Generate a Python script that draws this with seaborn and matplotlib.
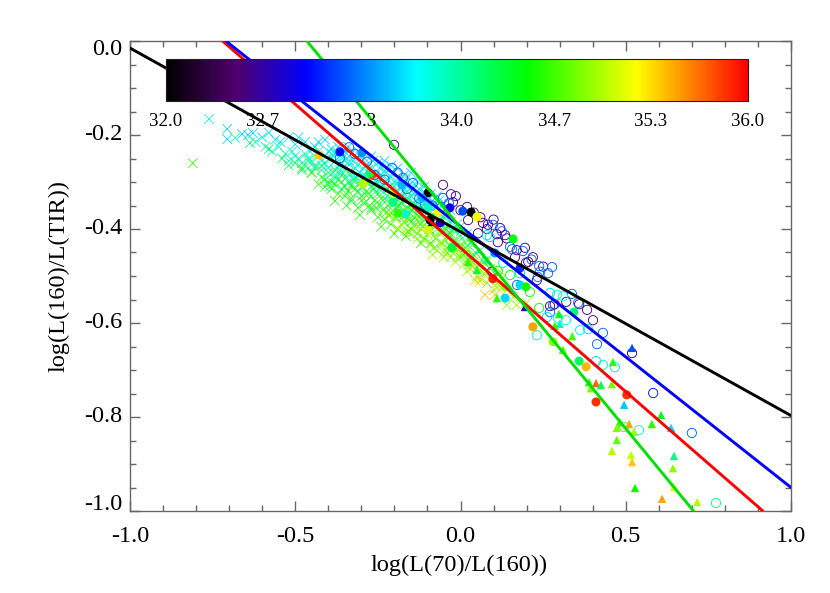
import numpy as np
import pandas as pd
import seaborn as sns
import matplotlib.pyplot as plt
from matplotlib.colors import LinearSegmentedColormap, Normalize
from matplotlib.cm import ScalarMappable
from matplotlib.ticker import MultipleLocator
from matplotlib.transforms import offset_copy

sns.set_theme(style="ticks")
plt.rcParams['font.family'] = ['Liberation Serif', 'DejaVu Serif']

# Fit lines (x ends, y ends)
red_x = [-0.72, 0.915]
red_y = [0.0, -1.0]
blue_x = [-0.71, 1.0]
blue_y = [0.0, -0.95]
green_x = [-0.465, 0.705]
green_y = [0.0, -1.0]
black_x = [-1.0, 1.0]
black_y = [-0.015, -0.797]

# Crosses, one list per colour
azure_x = [-0.706, -0.706, -0.661, -0.643, -0.628, -0.60, -0.58, -0.56, -0.52, -0.50, -0.47, -0.44, -0.41, -0.39, -0.37, -0.35, -0.33, -0.31, -0.29, -0.27, -0.25, -0.23, -0.21, -0.19, -0.17, -0.15, -0.13, -0.11, -0.09, -0.07, -0.05, -0.03, -0.36, -0.32, -0.28, -0.24, -0.20, -0.16, -0.12,
           -0.545, -0.49, -0.455, -0.43, -0.40, -0.38, -0.355, -0.34, -0.325, -0.30, -0.285, -0.265, -0.245, -0.225, -0.205, -0.185, -0.165, -0.145, -0.125, -0.105, -0.085, -0.065, -0.045, -0.345, -0.305, -0.26, -0.22, -0.18, -0.14, -0.10, -0.38, -0.34, -0.29, -0.255, -0.215, -0.175, -0.135]
azure_y = [-0.187, -0.209, -0.198, -0.2, -0.196, -0.205, -0.195, -0.21, -0.205, -0.22, -0.215, -0.225, -0.21, -0.23, -0.225, -0.235, -0.24, -0.235, -0.25, -0.245, -0.26, -0.255, -0.265, -0.27, -0.285, -0.28, -0.30, -0.31, -0.325, -0.33, -0.345, -0.36, -0.26, -0.27, -0.275, -0.285, -0.30, -0.31, -0.335,
           -0.215, -0.205, -0.235, -0.215, -0.235, -0.24, -0.245, -0.225, -0.255, -0.25, -0.265, -0.255, -0.27, -0.28, -0.28, -0.295, -0.295, -0.30, -0.315, -0.325, -0.34, -0.34, -0.355, -0.27, -0.28, -0.29, -0.295, -0.31, -0.325, -0.34, -0.255, -0.26, -0.29, -0.30, -0.31, -0.32, -0.34]
cyan_x = [-0.761, -0.682, -0.62, -0.59, -0.57, -0.55, -0.53, -0.51, -0.49, -0.47, -0.45, -0.43, -0.41, -0.39, -0.37, -0.35, -0.33, -0.31, -0.29, -0.27, -0.25, -0.23, -0.21, -0.19, -0.17, -0.15, -0.13, -0.11, -0.09, -0.07, -0.05, -0.03, -0.01, 0.02, -0.46, -0.42, -0.38, -0.34, -0.30, -0.26, -0.22, -0.18, -0.395,
          -0.52, -0.50, -0.48, -0.46, -0.44, -0.42, -0.40, -0.385, -0.365, -0.345, -0.325, -0.305, -0.285, -0.265, -0.245, -0.225, -0.205, -0.185, -0.165, -0.145, -0.125, -0.105, -0.085, -0.065, -0.045, -0.025, 0.0, 0.035, -0.36, -0.32, -0.28, -0.24, -0.20, -0.16, -0.12, -0.08, -0.04, -0.43, -0.39, -0.35, -0.31, -0.27, -0.23, -0.19, -0.15, -0.11, -0.07, -0.375, -0.335, -0.295]
cyan_y = [-0.166, -0.206, -0.215, -0.225, -0.235, -0.225, -0.24, -0.235, -0.25, -0.24, -0.255, -0.245, -0.26, -0.25, -0.265, -0.255, -0.28, -0.265, -0.285, -0.29, -0.28, -0.30, -0.29, -0.32, -0.30, -0.33, -0.32, -0.345, -0.35, -0.36, -0.375, -0.385, -0.39, -0.41, -0.27, -0.275, -0.29, -0.30, -0.31, -0.315, -0.33, -0.345, -0.31,
          -0.255, -0.245, -0.26, -0.25, -0.265, -0.255, -0.27, -0.28, -0.275, -0.29, -0.295, -0.30, -0.30, -0.305, -0.315, -0.315, -0.325, -0.335, -0.335, -0.345, -0.355, -0.36, -0.37, -0.38, -0.39, -0.40, -0.405, -0.425, -0.28, -0.29, -0.30, -0.295, -0.31, -0.32, -0.35, -0.345, -0.365, -0.235, -0.24, -0.245, -0.25, -0.27, -0.275, -0.30, -0.31, -0.33, -0.35, -0.235, -0.255, -0.27]
spring_x = [-0.637, -0.58, -0.54, -0.50, -0.46, -0.44, -0.42, -0.40, -0.38, -0.36, -0.34, -0.32, -0.30, -0.28, -0.26, -0.24, -0.22, -0.20, -0.18, -0.16, -0.14, -0.12, -0.10, -0.08, -0.06, -0.04, -0.02, 0.0, 0.03, 0.06,
            -0.52, -0.48, -0.45, -0.41, -0.39, -0.37, -0.35, -0.33, -0.31, -0.29, -0.27, -0.25, -0.23, -0.21, -0.19, -0.17, -0.15, -0.13, -0.11, -0.09, -0.07, -0.05, -0.03, -0.01, 0.015, 0.045, 0.08, -0.36, -0.30, -0.24, -0.18, -0.12, -0.06, 0.0, -0.33, -0.27, -0.21, -0.15, -0.09, -0.03]
spring_y = [-0.217, -0.23, -0.25, -0.26, -0.255, -0.27, -0.265, -0.28, -0.275, -0.285, -0.28, -0.295, -0.30, -0.30, -0.305, -0.31, -0.315, -0.325, -0.33, -0.335, -0.345, -0.355, -0.365, -0.37, -0.385, -0.395, -0.40, -0.415, -0.43, -0.445,
            -0.265, -0.275, -0.28, -0.295, -0.30, -0.295, -0.31, -0.31, -0.32, -0.325, -0.33, -0.325, -0.335, -0.345, -0.35, -0.36, -0.36, -0.37, -0.38, -0.385, -0.40, -0.405, -0.415, -0.43, -0.44, -0.45, -0.465, -0.315, -0.34, -0.35, -0.345, -0.39, -0.37, -0.395, -0.34, -0.355, -0.365, -0.385, -0.405, -0.435]
lgreen_x = [-0.81, -0.48, -0.45, -0.42, -0.40, -0.38, -0.36, -0.34, -0.32, -0.30, -0.28, -0.26, -0.24, -0.22, -0.20, -0.18, -0.16, -0.14, -0.12, -0.10, -0.08, -0.06, -0.04, -0.02, 0.0, 0.02, 0.04, 0.07, -0.31, -0.27, -0.25, -0.23, -0.21, -0.19, -0.17, -0.15, -0.13, -0.11, -0.09,
            -0.43, -0.41, -0.39, -0.37, -0.35, -0.33, -0.29, -0.275, -0.255, -0.235, -0.215, -0.195, -0.175, -0.155, -0.135, -0.115, -0.095, -0.075, -0.055, -0.035, -0.015, 0.01, 0.03, 0.055, 0.09, -0.38, -0.345, -0.305, -0.24, -0.20, -0.16, -0.12, -0.08, -0.04, 0.0, 0.03, -0.225, -0.185, -0.145, -0.105, -0.07, -0.03, 0.015, -0.265, -0.295, -0.33, -0.165, -0.125, -0.085, -0.045]
lgreen_y = [-0.26, -0.27, -0.28, -0.29, -0.30, -0.305, -0.30, -0.32, -0.315, -0.33, -0.325, -0.34, -0.335, -0.35, -0.345, -0.365, -0.355, -0.375, -0.37, -0.385, -0.395, -0.405, -0.415, -0.425, -0.435, -0.445, -0.455, -0.47, -0.355, -0.36, -0.375, -0.38, -0.39, -0.40, -0.385, -0.40, -0.41, -0.42, -0.43,
            -0.305, -0.31, -0.315, -0.325, -0.33, -0.335, -0.345, -0.35, -0.355, -0.36, -0.37, -0.375, -0.375, -0.38, -0.39, -0.395, -0.40, -0.42, -0.43, -0.435, -0.44, -0.455, -0.465, -0.475, -0.485, -0.34, -0.35, -0.37, -0.395, -0.41, -0.405, -0.43, -0.44, -0.45, -0.46, -0.475, -0.365, -0.35, -0.36, -0.375, -0.385, -0.41, -0.43, -0.315, -0.31, -0.305, -0.415, -0.375, -0.385, -0.40]
lime_x = [-0.22, -0.20, -0.18, -0.16, -0.14, -0.12, -0.10, -0.08, -0.06, -0.04, -0.02, 0.0, 0.02, 0.04, 0.06, 0.08, 0.10, 0.12, -0.085, -0.05, -0.015, 0.02, 0.05, 0.14, 0.14, 0.17, 0.2, 0.11, 0.08,
          -0.19, -0.17, -0.15, -0.13, -0.11, -0.09, -0.07, -0.05, -0.03, -0.01, 0.01, 0.03, 0.05, 0.07, 0.09, 0.11, 0.13, -0.12, -0.08, -0.04, 0.0, 0.04, 0.08, 0.12, -0.06, -0.02, 0.02, 0.06, 0.1, 0.16]
lime_y = [-0.37, -0.375, -0.39, -0.38, -0.395, -0.40, -0.41, -0.415, -0.43, -0.44, -0.45, -0.455, -0.465, -0.475, -0.485, -0.49, -0.50, -0.51, -0.455, -0.46, -0.47, -0.49, -0.50, -0.53, -0.562, -0.562, -0.557, -0.525, -0.515,
          -0.40, -0.405, -0.41, -0.42, -0.425, -0.435, -0.445, -0.45, -0.46, -0.46, -0.475, -0.485, -0.48, -0.495, -0.505, -0.515, -0.52, -0.385, -0.395, -0.42, -0.44, -0.46, -0.47, -0.49, -0.41, -0.435, -0.445, -0.505, -0.53, -0.545]
amber_x = [0.044, 0.059, 0.074, 0.104]
amber_y = [-0.509, -0.511, -0.54, -0.54]

# Open circles
open_x = [-0.201, -0.053, -0.029, -0.014, -0.023, 0.02, 0.023, 0.068, 0.083, 0.12, 0.08, 0.053, 0.135, 0.11, 0.113, 0.195, 0.165, 0.198, 0.219, 0.231, 0.271, 0.383, 0.359, 0.401, 0.095, 0.519, 0.583, 0.70,
          0.0, 0.04, 0.06, 0.10, 0.14, 0.17, 0.25, 0.285, 0.32, 0.205,
          -0.053, 0.098, 0.15, 0.156, 0.189, 0.238, 0.277, 0.241, 0.265, 0.234, 0.171, 0.337, 0.356, 0.28, 0.271, 0.431, 0.413, -0.365, -0.337, -0.283, -0.207, -0.174, -0.144, -0.162, -0.107,
          -0.32, -0.26, -0.23, -0.19, -0.125, -0.085, -0.06, -0.035, 0.125, 0.215,
          0.08, 0.089, 0.053, 0.129, 0.18, 0.271, 0.292, 0.31, 0.319, 0.295, 0.231, 0.362, 0.386, 0.262, 0.41, 0.431, 0.467, 0.54, 0.495, 0.773, 0.238, 0.15, 0.21, 0.113]
open_y = [-0.221, -0.306, -0.326, -0.33, -0.343, -0.353, -0.381, -0.387, -0.391, -0.398, -0.40, -0.409, -0.413, -0.411, -0.428, -0.44, -0.46, -0.472, -0.46, -0.509, -0.564, -0.572, -0.56, -0.594, -0.491, -0.664, -0.749, -0.834,
          -0.36, -0.365, -0.375, -0.38, -0.42, -0.445, -0.48, -0.56, -0.555, -0.47,
          -0.334, -0.391, -0.438, -0.443, -0.447, -0.479, -0.481, -0.491, -0.494, -0.502, -0.519, -0.538, -0.557, -0.562, -0.577, -0.621, -0.645, -0.249, -0.226, -0.257, -0.27, -0.291, -0.302, -0.315, -0.349,
          -0.24, -0.285, -0.295, -0.28, -0.335, -0.35, -0.355, -0.345, -0.405, -0.465,
          -0.413, -0.417, -0.46, -0.472, -0.494, -0.536, -0.54, -0.543, -0.594, -0.589, -0.626, -0.615, -0.613, -0.587, -0.681, -0.689, -0.694, -0.828, -0.821, -0.983, -0.568, -0.498, -0.534, -0.489]
open_lum = [32.55] * 26 + [33.0, 33.25] + [32.55] * 10 + [33.25] * 35 + [33.6, 33.6, 33.9, 33.8, 33.6, 33.6, 33.9, 33.9, 33.7, 33.8, 33.9, 33.7, 33.6, 33.6, 33.6, 33.9, 33.6, 33.9, 34.7, 34.1, 34.4, 34.4, 34.5, 34.4]

# Filled circles
dot_x = [-0.428, -0.365, -0.298, -0.268, -0.274, -0.295, -0.177, -0.098, -0.204, -0.189, -0.165, -0.098, -0.068, -0.032, -0.026, -0.062, -0.092, -0.098, -0.204, -0.117, 0.007, 0.032, 0.05, 0.159, 0.104, 0.18, 0.098, 0.135, 0.18, 0.198, 0.135, 0.219, 0.28, 0.343, 0.359, 0.38, 0.41, 0.503]
dot_y = [-0.243, -0.236, -0.238, -0.285, -0.281, -0.304, -0.306, -0.323, -0.343, -0.366, -0.368, -0.402, -0.364, -0.355, -0.44, -0.387, -0.381, -0.353, -0.323, -0.334, -0.362, -0.364, -0.374, -0.421, -0.451, -0.483, -0.506, -0.523, -0.519, -0.523, -0.547, -0.608, -0.64, -0.577, -0.681, -0.693, -0.768, -0.753]
dot_lum = [35.4, 33.0, 33.4, 35.8, 34.2, 35.0, 33.5, 32.0, 34.1, 34.6, 33.9, 35.1, 35.2, 32.9, 34.3, 32.8, 32.0, 33.9, 35.1, 33.5, 33.2, 32.0, 35.2, 34.4, 33.4, 33.1, 35.9, 34.95, 33.6, 34.5, 33.6, 35.5, 34.9, 34.2, 34.2, 35.45, 35.85, 35.85]

# Triangles
tri_x = [0.519, 0.461, 0.338, 0.31, 0.298, 0.30, 0.285, 0.41, 0.389, 0.394, 0.425, 0.458, 0.495, 0.482, 0.51, 0.473, 0.525, 0.579, 0.607, 0.637, 0.473, 0.458, 0.516, 0.519, 0.646, 0.643, 0.528, 0.61, 0.716, 0.646, 0.195, 0.11, 0.05, 0.023, 0.08, -0.086]
tri_y = [-0.653, -0.683, -0.628, -0.657, -0.581, -0.602, -0.606, -0.728, -0.726, -0.739, -0.732, -0.73, -0.774, -0.811, -0.815, -0.823, -0.832, -0.815, -0.796, -0.823, -0.849, -0.872, -0.881, -0.896, -0.883, -0.909, -0.951, -0.974, -0.981, -0.949, -0.566, -0.547, -0.487, -0.47, -0.466, -0.385]
tri_lum = [33.2, 34.6, 34.7, 34.7, 34.5, 33.9, 34.6, 35.7, 34.6, 34.85, 34.2, 34.8, 33.55, 34.6, 35.5, 34.85, 34.95, 34.6, 34.4, 33.6, 34.75, 35.0, 35.05, 35.4, 34.1, 34.9, 34.5, 35.5, 35.0, 35.1, 32.8, 34.6, 34.3, 34.6, 33.9, 32.0]

# Axis and colour bar labels
x_ticks = [-1.0, -0.5, 0.0, 0.5, 1.0]
y_ticks = [0.0, -0.2, -0.4, -0.6, -0.8, -1.0]
bar_ticks = [32.0, 32.667, 33.333, 34.0, 34.667, 35.333, 36.0]
bar_labels = ['32.0', '32.7', '33.3', '34.0', '34.7', '35.3', '36.0']

W, H = 830, 593
cmap = LinearSegmentedColormap.from_list('rainbow_idl', [
    (0.0, '#000000'), (0.12, '#50006e'), (0.24, '#0000ff'), (0.43, '#00ffff'),
    (0.62, '#00ff00'), (0.81, '#ffff00'), (1.0, '#ff0000')])
norm = (32, 36)

fig = plt.figure(figsize=(8.3, 5.93), dpi=100, facecolor='white')
ax = fig.add_axes([130 / W, 1 - 511 / H, 661 / W, 470 / H])


# scatter one group of marks, coloured through the shared scale
def marks(x, y, lum, marker, size, lw=0.0, hollow=False, zorder=2):
    df = pd.DataFrame({'x': x, 'y': y, 'lum': lum})
    sns.scatterplot(data=df, x='x', y='y', hue='lum', palette=cmap, hue_norm=norm,
                    marker=marker, s=size, linewidth=lw, legend=False, ax=ax,
                    zorder=zorder)
    pts = ax.collections[-1]
    if hollow:
        cols = pts.get_facecolors()
        pts.set_edgecolors(cols)
        pts.set_facecolors('none')
    return pts


cross_groups = [(azure_x, azure_y, 33.6), (cyan_x, cyan_y, 33.9), (spring_x, spring_y, 34.2),
                (lgreen_x, lgreen_y, 34.6), (lime_x, lime_y, 34.95), (amber_x, amber_y, 35.4)]
for gx, gy, lum in cross_groups:
    marks(gx, gy, [lum] * len(gx), 'x', 48, lw=0.55, zorder=2)

marks(open_x, open_y, open_lum, 'o', 44, lw=0.65, hollow=True, zorder=3)
marks(dot_x, dot_y, dot_lum, 'o', 42, zorder=4)
marks(tri_x, tri_y, tri_lum, '^', 36, zorder=4)

for lx, ly, col in [(red_x, red_y, '#ff0000'), (blue_x, blue_y, '#0000ff'),
                    (green_x, green_y, '#00e000'), (black_x, black_y, '#000000')]:
    sns.lineplot(x=lx, y=ly, color=col, linewidth=2.1, sort=False, estimator=None, ax=ax, zorder=5)

ax.set_xlim(-1, 1)
ax.set_ylim(-1, 0)
ax.set_xticks(x_ticks)
ax.set_xticklabels([f'{v:.1f}' for v in x_ticks])
ax.set_yticks(y_ticks)
ax.set_yticklabels([f'{v:.1f}' for v in y_ticks])
ax.xaxis.set_minor_locator(MultipleLocator(0.1))
ax.yaxis.set_minor_locator(MultipleLocator(0.05))
ax.tick_params(which='major', direction='in', length=7, width=1, color='#666666', top=True,
               right=True, labelsize=17.5, labelcolor='black')
ax.tick_params(axis='x', which='major', pad=10.5)
ax.tick_params(axis='y', which='major', pad=5.5)
ax.tick_params(which='minor', direction='in', length=4, width=1, color='#666666', top=True, right=True)
ax.set_xlabel('log(L(70)/L(160))', fontsize=17.6, color='black')
ax.set_ylabel('log(L(160)/L(TIR))', fontsize=17.6, color='black')
ax.xaxis.set_label_coords(0.498, -0.093)
ax.yaxis.set_label_coords(-0.091, 0.5)
ylabs = ax.get_yticklabels()
for lab in ylabs:
    lab.set_va('center')
# end labels are pulled inside the axis range
ylabs[0].set_va('top')
ylabs[0].set_transform(offset_copy(ylabs[0].get_transform(), fig=fig, y=1.5, units='points'))
ylabs[-1].set_va('bottom')
ylabs[-1].set_transform(offset_copy(ylabs[-1].get_transform(), fig=fig, y=-3, units='points'))
for sp in ax.spines.values():
    sp.set_color('#666666')
    sp.set_linewidth(1)

# Colour bar sits over the plot
cax = fig.add_axes([166 / W, 1 - 101 / H, 582 / W, 42 / H], zorder=10)
cb = fig.colorbar(ScalarMappable(Normalize(*norm), cmap), cax=cax, orientation='horizontal')
cb.set_ticks(bar_ticks)
cb.set_ticklabels(bar_labels)
cb.ax.xaxis.set_minor_locator(MultipleLocator(2 / 6))
cb.ax.tick_params(which='major', direction='in', length=8, width=0.8, color='#222222', top=True,
                  labelsize=13.6, labelcolor='black', pad=8.5)
cb.ax.tick_params(which='minor', direction='in', length=4, width=0.8, color='#222222', top=True)
cb.outline.set_edgecolor('#222222')
cb.outline.set_linewidth(0.8)

fig.savefig('out.png', dpi=100)
